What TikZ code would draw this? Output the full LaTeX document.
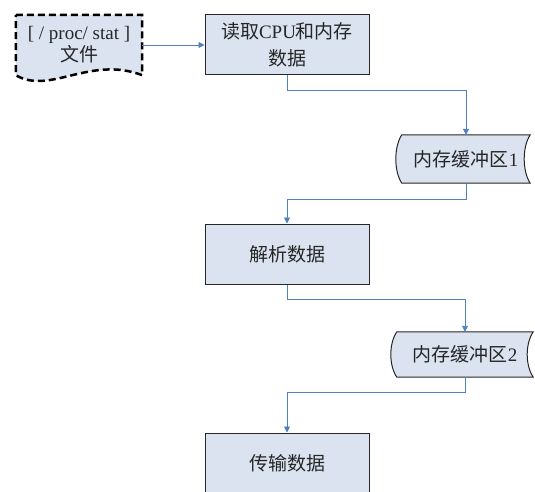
\documentclass[tikz,border=0pt]{standalone}
\usepackage{fontspec}
\setmainfont{Liberation Serif}
\newfontfamily\cjk{Noto Sans CJK SC}
\usetikzlibrary{arrows.meta,backgrounds}
\definecolor{boxfill}{RGB}{220,227,240}
\definecolor{flowblue}{RGB}{79,129,189}
\tikzset{
	procbox/.style={draw=black!85, line width=1pt, fill=boxfill, minimum width=164pt, minimum height=60pt, inner sep=0pt, align=center, text=black!85, font=\fontsize{19}{27}\selectfont},
	bufnode/.style={minimum width=128pt, minimum height=48pt, inner sep=0pt, align=center, text=black!85, font=\fontsize{19}{23}\selectfont},
	bufshape/.style={draw=black!85, line width=1pt, fill=boxfill},
	docnode/.style={minimum width=126pt, minimum height=60pt, inner sep=0pt, align=center, text=black!85, font=\fontsize{19}{22}\selectfont},
	docshape/.style={draw=black, line width=2.5pt, dash pattern=on 7pt off 4pt, fill=boxfill},
	flow/.style={draw=flowblue, line width=0.9pt, -{Triangle[length=6pt,width=6pt]}}
}
\newcommand{\vertexBox}[5][]{
	\path (#2,#3) node[procbox, #1](#4){#5};
}
\newcommand{\vertexBuffer}[5][]{
	\path (#2,#3) node[bufnode, #1](#4){#5};
	\begin{scope}[on background layer]
		\draw[bufshape] (#4.north west) -- (#4.north east)
			.. controls +(-8,-12) and +(-8,12) .. (#4.south east) -- (#4.south west)
			.. controls +(-8,12) and +(-8,-12) .. (#4.north west) -- cycle;
	\end{scope}
}
\newcommand{\vertexDoc}[5][]{
	\path (#2,#3) node[docnode, #1](#4){#5};
	\begin{scope}[on background layer]
		\draw[docshape] (#4.north west) -- (#4.north east) -- (#4.south east)
			.. controls +(-52,20) and +(34,-20) .. (#4.south west) -- cycle;
	\end{scope}
}
\newcommand{\edgeDown}[4][]{
	\draw[flow, #1] (#2.south) -- ++(0,-#4) -| (#3.north);
}

\begin{document}
\begin{tikzpicture}[x=1pt,y=1pt]
	\useasboundingbox (0,0) rectangle (535,-492);

	\vertexDoc{79}{-45}{procfile}{[ / proc/ stat ]\\{\cjk 文件}};
	\vertexBox{287}{-45}{readdata}{{\cjk 读取}CPU{\cjk 和内存}\\{\cjk 数据}};
	\vertexBuffer{466}{-159}{bufA}{{\cjk 内存缓冲区}1};
	\vertexBox{287}{-254}{parsedata}{\cjk 解析数据};
	\vertexBuffer[minimum width=136pt, minimum height=45pt]{465}{-354.5}{bufB}{{\cjk 内存缓冲区}2};
	\vertexBox{287}{-463}{senddata}{\cjk 传输数据};

	\draw[flow] (procfile.east) -- (readdata.west);
	\edgeDown{readdata}{bufA}{15}
	\edgeDown{bufA}{parsedata}{16}
	\edgeDown{parsedata}{bufB}{15}
	\edgeDown{bufB}{senddata}{15}
\end{tikzpicture}
\end{document}
